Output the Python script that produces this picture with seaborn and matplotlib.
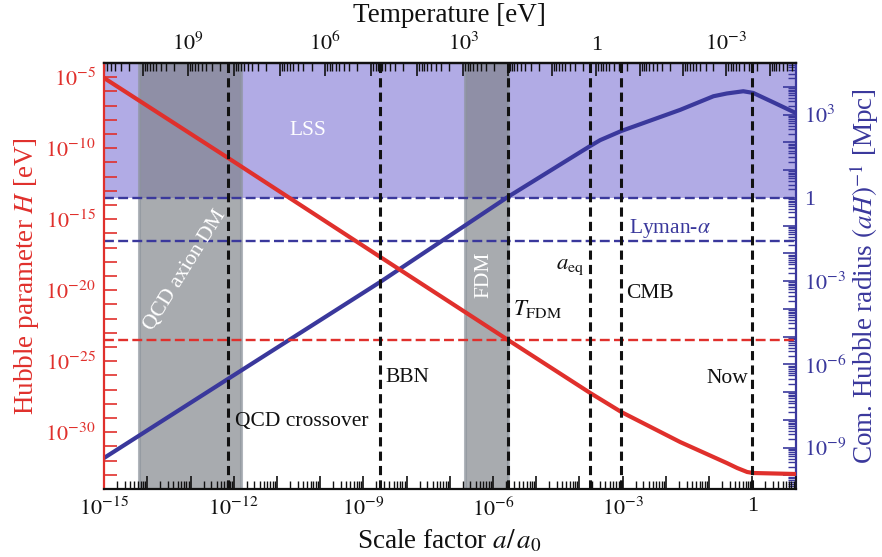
import numpy as np
import pandas as pd
import matplotlib
matplotlib.use("Agg")
import matplotlib.pyplot as plt
import matplotlib.ticker as mticker
import seaborn as sns

# ---------------- data ----------------
# Hubble parameter H(a) [eV]  (log10 values)
logA_H = [-15.0, -12.13, -8.61, -5.65, -3.75, -3.03, -1.67, -0.59, -0.35, -0.12, 0.02, 1.0]
logH = [-5.06, -10.69, -17.66, -23.51, -27.24, -28.58, -30.69, -32.17, -32.52, -32.80, -32.87, -32.94]

# comoving Hubble radius (aH)^-1 [Mpc] (log10 values)
logA_R = [-15.0, -12.13, -8.61, -5.65, -3.75, -3.52, -3.03, -1.67, -0.90, -0.59, -0.21, 0.02, 0.5, 1.0]
logR = [-9.37, -6.52, -3.03, 0.04, 1.87, 2.08, 2.41, 3.17, 3.66, 3.76, 3.84, 3.78, 3.43, 3.06]

# events (vertical dashed lines), log10 a
event_names = ["QCD crossover", "BBN", "T_FDM", "a_eq", "CMB", "Now"]
event_logA = [-12.13, -8.61, -5.65, -3.75, -3.03, 0.0]

# shaded bands, log10 a
band_names = ["QCD axion DM", "FDM"]
band_lo = [-14.19, -6.64]
band_hi = [-11.83, -5.65]

# horizontal thresholds
lss_radius = 1.0            # Mpc
lyman_radius = 10 ** -1.55  # Mpc
fdm_H = 10 ** -23.51        # eV

# temperature <-> scale factor calibration (log10)
temp_logA = [-20.0, -16.2, -13.06, -9.88, -6.69, -3.61, -0.60, 5.0]
temp_logT = [15.55, 12.0, 9.0, 6.0, 3.0, 0.0, -3.0, -8.6]

# ---------------- style ----------------
sns.set_theme(style="ticks")
plt.rcParams["font.family"] = ["Liberation Serif", "DejaVu Serif"]
plt.rcParams["mathtext.fontset"] = "stix"

RED = "#e0302c"
BLUE = "#3a389c"
LSS_COL = "#b1abe5"
BAND_COL = "#7f8389"
BAND_EDGE = "#8d949c"
INK = "#111111"

fig = plt.figure(figsize=(8.82, 5.57), dpi=100)
ax = fig.add_axes([0.118, 0.122, 0.784, 0.765])
ax2 = ax.twinx()
ax.set_zorder(2)
ax2.set_zorder(1)
ax.patch.set_visible(False)

df_H = pd.DataFrame({"a": 10.0 ** np.array(logA_H), "H": 10.0 ** np.array(logH)})
df_R = pd.DataFrame({"a": 10.0 ** np.array(logA_R), "R": 10.0 ** np.array(logR)})

for a_ in (ax, ax2):
    a_.set_xscale("log")
ax.set_yscale("log")
ax2.set_yscale("log")
ax.set_xlim(1e-15, 1e1)
ax.set_ylim(1e-34, 1e-4)
ax2.set_ylim(10 ** -10.49, 10 ** 4.86)

# LSS region + bands (under axis ax2)
ax2.axhspan(lss_radius, 10 ** 4.86, color=LSS_COL, lw=0, zorder=0.5)
for lo, hi in zip(band_lo, band_hi):
    ax2.axvspan(10 ** lo, 10 ** hi, facecolor=BAND_COL, alpha=0.68,
                edgecolor=BAND_EDGE, lw=2.2, zorder=1)

ax2.axhline(lss_radius, color=BLUE, lw=1.7, dashes=(4.2, 1.8), zorder=2)
ax2.axhline(lyman_radius, color=BLUE, lw=1.7, dashes=(4.2, 1.8), zorder=2)
sns.lineplot(data=df_R, x="a", y="R", ax=ax2, color=BLUE, lw=3, zorder=3)

ax.axhline(fdm_H, color=RED, lw=1.7, dashes=(4.2, 1.8), zorder=2)
sns.lineplot(data=df_H, x="a", y="H", ax=ax, color=RED, lw=3, zorder=3)
for la in event_logA:
    ax.axvline(10 ** la, color=INK, lw=2.2, dashes=(3, 1.7), zorder=4)

# ---------------- texts ----------------
FS = 15.5
ax2.text(10 ** -10.28, 10 ** 2.41, "LSS", color="white", fontsize=FS, ha="center", va="center", zorder=5)
ax2.text(10 ** -1.90, 10 ** -1.12, r"Lyman-$\alpha$", color=BLUE, fontsize=FS, ha="center", va="center", zorder=5)
ax.text(10 ** -13.13, 10 ** -18.58, "QCD axion DM", color="white", fontsize=FS, ha="center", va="center",
        rotation=58, rotation_mode="anchor", zorder=5)
ax.text(10 ** -6.20, 10 ** -18.93, "FDM", color="white", fontsize=FS, ha="center", va="center",
        rotation=90, zorder=5)
ax.text(10 ** -4.98, 10 ** -21.32, r"$T_{\rm FDM}$", color=INK, fontsize=FS + 1, ha="center", va="center", zorder=5)
ax.text(10 ** -4.21, 10 ** -18.30, r"$a_{\rm eq}$", color=INK, fontsize=FS + 1, ha="center", va="center", zorder=5)
ax.text(10 ** -2.36, 10 ** -20.2, "CMB", color=INK, fontsize=FS, ha="center", va="center", zorder=5)
ax.text(10 ** -0.58, 10 ** -26.25, "Now", color=INK, fontsize=FS, ha="center", va="center", zorder=5)
ax.text(10 ** -7.99, 10 ** -26.18, "BBN", color=INK, fontsize=FS, ha="center", va="center", zorder=5)
ax.text(10 ** -11.97, 10 ** -29.21, "QCD crossover", color=INK, fontsize=FS, ha="left", va="center", zorder=5)

# ---------------- axes / ticks ----------------
def fmt_every(step):
    def f(v, pos):
        if v <= 0:
            return ""
        e = int(round(np.log10(v)))
        if abs(np.log10(v) - e) > 1e-6 or e % step != 0:
            return ""
        if e == 0:
            return "1"
        return r"$10^{%d}$" % e
    return mticker.FuncFormatter(f)

TL = 16
ax.xaxis.set_major_locator(mticker.LogLocator(base=10, subs=(1.0,), numticks=100))
ax.xaxis.set_minor_locator(mticker.LogLocator(base=10, subs=np.arange(2, 10), numticks=100))
ax.xaxis.set_major_formatter(fmt_every(3))
ax.xaxis.set_minor_formatter(mticker.NullFormatter())

ax.yaxis.set_major_locator(mticker.LogLocator(base=10, subs=(1.0,), numticks=100))
ax.yaxis.set_minor_locator(mticker.NullLocator())
ax.yaxis.set_major_formatter(fmt_every(5))

ax2.yaxis.set_major_locator(mticker.LogLocator(base=10, subs=(1.0,), numticks=100))
ax2.yaxis.set_minor_locator(mticker.LogLocator(base=10, subs=np.arange(2, 10), numticks=100))
ax2.yaxis.set_major_formatter(fmt_every(3))
ax2.yaxis.set_minor_formatter(mticker.NullFormatter())

ax.tick_params(axis="x", which="major", direction="in", length=9.4, width=1.2, labelsize=TL,
               color=INK, labelcolor=INK, pad=6, top=False)
ax.tick_params(axis="x", which="minor", direction="in", length=5.5, width=1.0, color=INK, top=False)
ax.tick_params(axis="y", which="major", direction="in", length=9.4, width=1.2, labelsize=TL,
               color=RED, labelcolor=RED, pad=6, right=False)
ax2.tick_params(axis="y", which="major", direction="in", length=9.4, width=1.2, labelsize=TL,
                color=BLUE, labelcolor=BLUE, pad=6)
ax2.tick_params(axis="y", which="minor", direction="in", length=5.5, width=1.0, color=BLUE)

for s in ("top", "bottom"):
    ax.spines[s].set_color(INK)
    ax.spines[s].set_linewidth(1.6)
ax.spines["left"].set_color(RED)
ax.spines["left"].set_linewidth(1.6)
ax.spines["right"].set_visible(False)
ax2.spines["right"].set_color(BLUE)
ax2.spines["right"].set_linewidth(1.6)
for s in ("left", "top", "bottom"):
    ax2.spines[s].set_visible(False)

LF = 19.5
ax.set_xlabel(r"Scale factor $a/\,a_0$", fontsize=LF, color=INK, labelpad=5)
ax.set_ylabel(r"Hubble parameter $H$ [eV]", fontsize=LF, color=RED, labelpad=3)
ax2.set_ylabel(r"Com. Hubble radius $(aH)^{-1}$ [Mpc]", fontsize=LF, color=BLUE, labelpad=1)

# temperature axis on top
tA = np.array(temp_logA)
tT = np.array(temp_logT)

def a_to_T(a):
    la = np.log10(np.clip(np.asarray(a, dtype=float), 1e-300, None))
    return 10.0 ** np.interp(la, tA, tT)

def T_to_a(T):
    lt = np.log10(np.clip(np.asarray(T, dtype=float), 1e-300, None))
    return 10.0 ** np.interp(lt, tT[::-1], tA[::-1])

sec = ax.secondary_xaxis("top", functions=(a_to_T, T_to_a))
sec.xaxis.set_major_locator(mticker.LogLocator(base=10, subs=(1.0,), numticks=100))
sec.xaxis.set_minor_locator(mticker.LogLocator(base=10, subs=np.arange(2, 10), numticks=100))
sec.xaxis.set_major_formatter(fmt_every(3))
sec.xaxis.set_minor_formatter(mticker.NullFormatter())
sec.tick_params(axis="x", which="major", direction="in", length=9.4, width=1.2, labelsize=TL,
                color=INK, labelcolor=INK, pad=6)
sec.tick_params(axis="x", which="minor", direction="in", length=5.5, width=1.0, color=INK)
sec.spines["top"].set_linewidth(1.6)
sec.spines["top"].set_color(INK)
sec.set_xlabel("Temperature [eV]", fontsize=LF, color=INK, labelpad=7)

fig.savefig("out.png", dpi=100)
